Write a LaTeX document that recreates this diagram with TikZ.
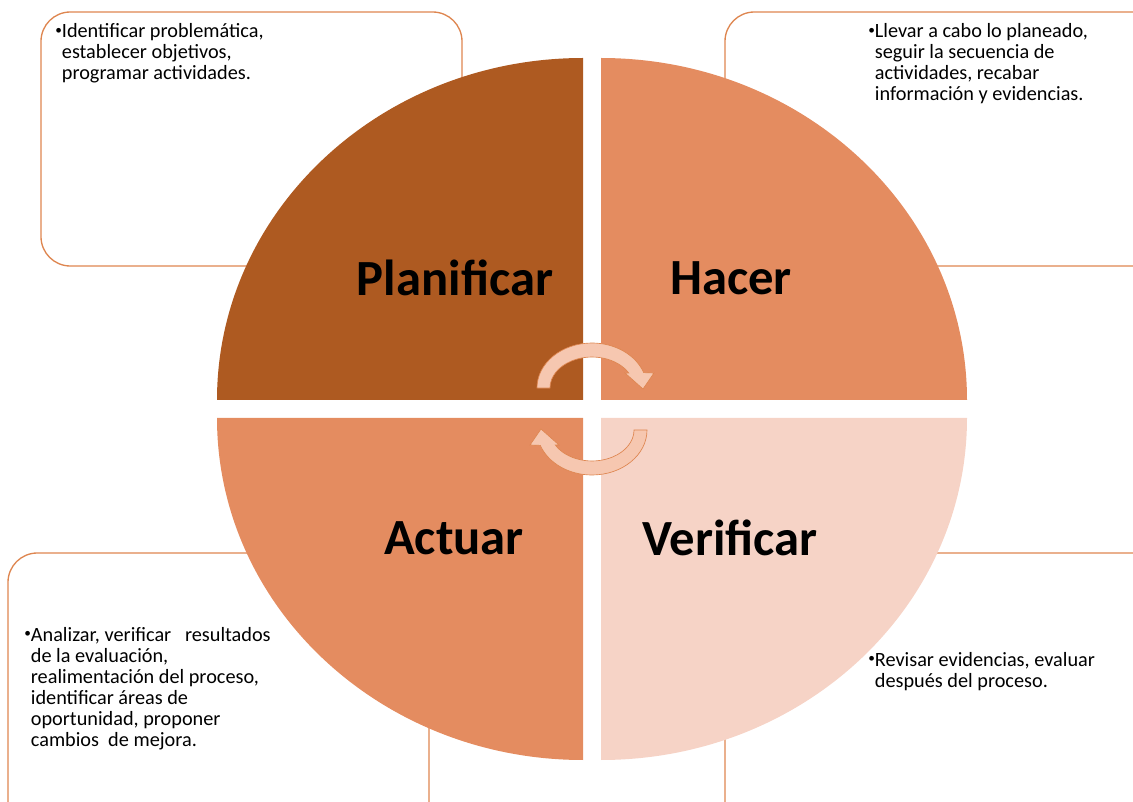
\documentclass[tikz,border=0pt]{standalone}
\usepackage{fontspec}
\setmainfont{Carlito}
\definecolor{qdark}{HTML}{AE5A21}
\definecolor{qmid}{HTML}{E48C60}
\definecolor{qlight}{HTML}{F6D3C6}
\definecolor{boxline}{HTML}{DE8650}
\definecolor{arrowfill}{HTML}{F6C7B0}
\newcommand{\bitem}[1]{\raisebox{0.18em}{\fontsize{10}{10}\selectfont\textbullet}\begin{tabular}[t]{@{}l@{}}#1\end{tabular}}
\begin{document}
\begin{tikzpicture}
    [x=0.75pt,y=0.75pt,
     box/.style={draw=boxline, line width=1pt, rounded corners=22pt},
     title/.style={font=\fontsize{38}{40}\selectfont\bfseries},
     txt/.style={anchor=north west, inner sep=0pt, font=\fontsize{15.2}{15.75}\selectfont},
     turn/.style={fill=arrowfill, draw=boxline, line width=0.5pt}]
    \useasboundingbox (0,0) rectangle (1133,801);

    % boxes behind the circle
    \draw[box] (41,535) rectangle (462,789);
    \draw[box] (725,535) rectangle (1165,789);
    \draw[box] (8,-30) rectangle (429,248);
    \draw[box] (725,-30) rectangle (1165,248);

    % the four quarters
    \fill[qdark] (583,401) -- (583,743) arc[start angle=90, end angle=180, x radius=366, y radius=342] -- cycle;
    \fill[qmid] (601,401) -- (967,401) arc[start angle=0, end angle=90, x radius=366, y radius=342] -- cycle;
    \fill[qmid] (583,383) -- (217,383) arc[start angle=180, end angle=270, x radius=366, y radius=342] -- cycle;
    \fill[qlight] (601,383) -- (601,41) arc[start angle=270, end angle=360, x radius=366, y radius=342] -- cycle;

    % turning arrows
    \foreach \r in {0,180}
      \filldraw[turn, shift={(592,392)}, rotate=\r] (-55,21)
        arc[start angle=180, end angle=20, x radius=55, y radius=45]
        -- (62,36) -- (51,20) -- (33,36) -- (36.7,36)
        arc[start angle=29, end angle=180, x radius=42, y radius=31] -- cycle;

    \node[title] (plan) at (455,523) {Planificar};
    \node[title] (hacer) at (731,523) {Hacer};
    \node[title] (actuar) at (454,263) {Actuar};
    \node[title] (verif) at (730,263) {Verificar};

    \node[txt] (t1) at (55,778) {\bitem{Identificar problemática,\\establecer objetivos,\\programar actividades.}};
    \node[txt] (t2) at (868,778) {\bitem{Llevar a cabo lo planeado,\\seguir la secuencia de\\actividades, recabar\\información y evidencias.}};
    \node[txt] (t3) at (24,174.5) {\bitem{Analizar, verificar \ \ resultados\\de la evaluación,\\realimentación del proceso,\\identificar áreas de\\oportunidad, proponer\\cambios \ de mejora.}};
    \node[txt] (t4) at (868,149.5) {\bitem{Revisar evidencias, evaluar\\después del proceso.}};
\end{tikzpicture}
\end{document}
